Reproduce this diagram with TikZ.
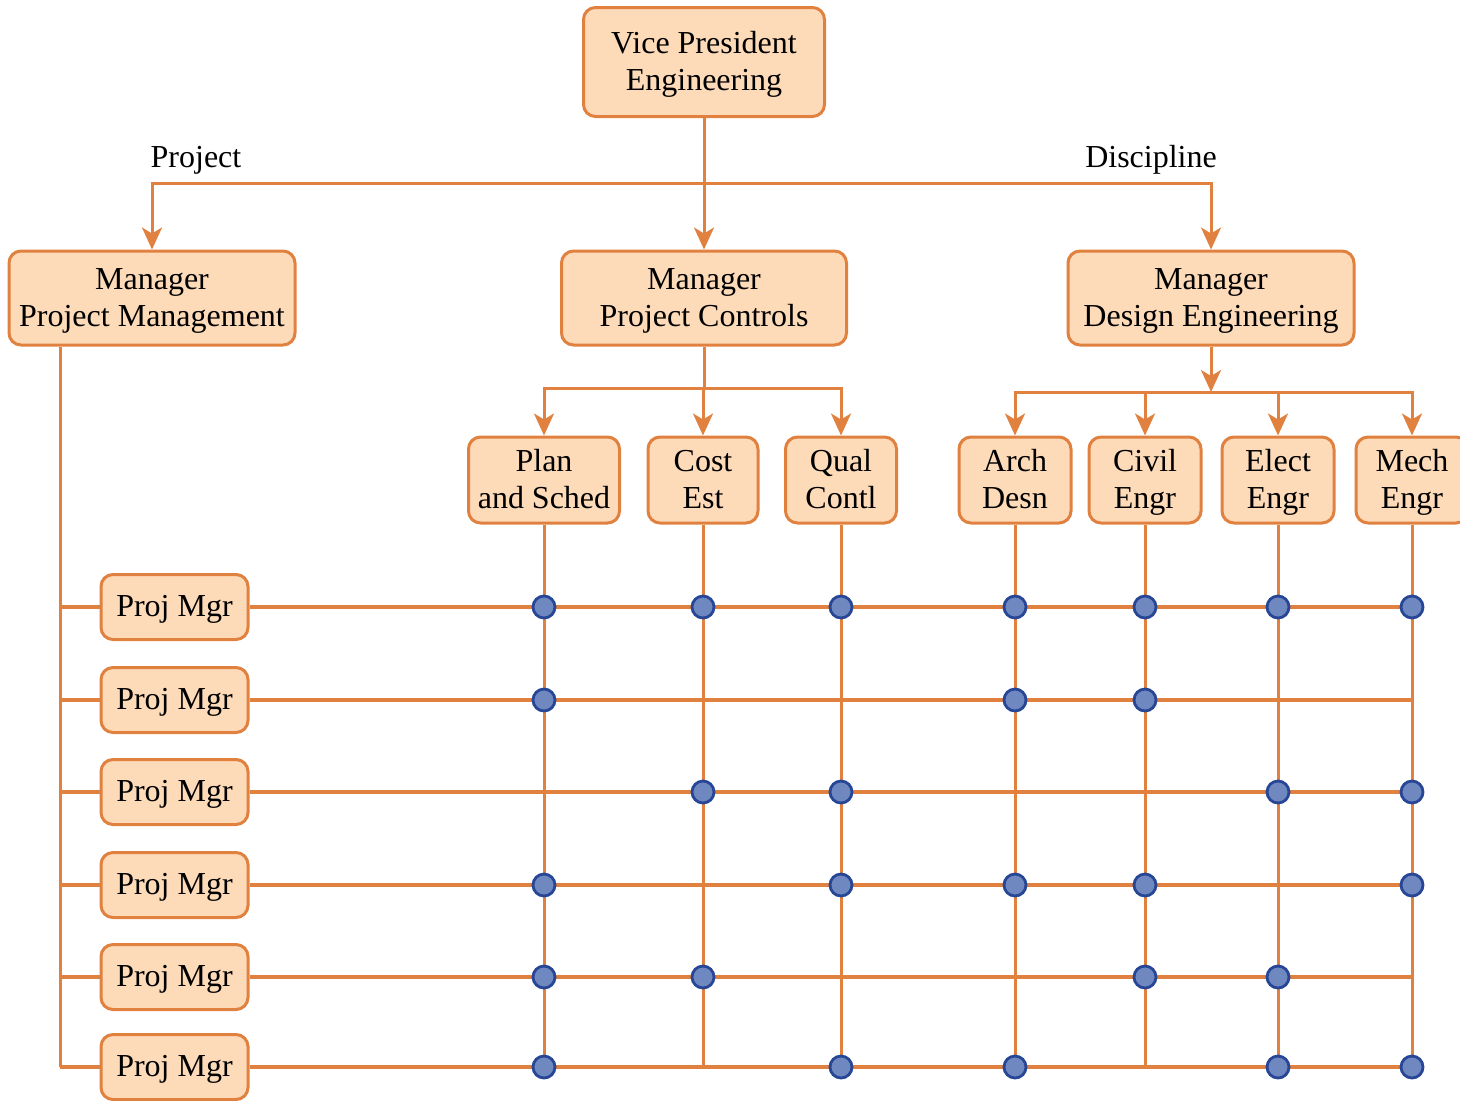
\documentclass[tikz,border=0pt]{standalone}
\usepackage{fontspec}
\setmainfont{Liberation Serif}
\usetikzlibrary{arrows.meta}
\definecolor{boxfill}{RGB}{253,218,184}
\definecolor{boxline}{RGB}{224,129,64}
\definecolor{dotfill}{RGB}{112,136,192}
\definecolor{dotline}{RGB}{40,70,150}
\newcommand\lstrut{\rule[-3pt]{0pt}{16pt}}
\tikzset{
  orgbox/.style={draw=boxline, fill=boxfill, line width=1.5pt, rounded corners=6pt,
    align=center, inner sep=0pt, font=\fontsize{16}{18.5}\selectfont},
  bigbox/.style={orgbox, minimum width=#1, minimum height=47pt},
  smallbox/.style={orgbox, minimum width=#1, minimum height=43pt},
  pmbox/.style={orgbox, minimum width=73.5pt, minimum height=32.5pt},
  conn/.style={draw=boxline, line width=1.5pt},
  hconn/.style={draw=boxline, line width=1.8pt},
  arr/.style={conn, -{Stealth[length=11pt, width=10pt, inset=3pt]}},
  lbl/.style={font=\fontsize{16}{18.5}\selectfont, inner sep=0pt},
  dot/.style={circle, draw=dotline, fill=dotfill, line width=1.4pt, minimum size=11pt, inner sep=0pt},
}
\begin{document}
\begin{tikzpicture}[x=0.5pt, y=-0.5pt]
\useasboundingbox (0,0) rectangle (1460,1100);
% top nodes
\node[orgbox, minimum width=120.5pt, minimum height=54.5pt] (vp) at (704,62) {\lstrut Vice President\\\lstrut Engineering};
\node[bigbox=143pt] (mpm) at (152,298) {\lstrut Manager\\\lstrut Project Management};
\node[bigbox=142.5pt] (mpc) at (704,298) {\lstrut Manager\\\lstrut Project Controls};
\node[bigbox=143pt] (mde) at (1211,298) {\lstrut Manager\\\lstrut Design Engineering};
\node[lbl] (lproj) at (196,160) {Project};
\node[lbl] (ldisc) at (1151,160) {Discipline};
% second level
\node[smallbox=75.5pt] (plan) at (544,480) {\lstrut Plan\\\lstrut and Sched};
\node[smallbox=55pt] (cost) at (703,480) {\lstrut Cost\\\lstrut Est};
\node[smallbox=55.5pt] (qual) at (841,480) {\lstrut Qual\\\lstrut Contl};
\node[smallbox=56pt] (arch) at (1015,480) {\lstrut Arch\\\lstrut Desn};
\node[smallbox=56pt] (civil) at (1145,480) {\lstrut Civil\\\lstrut Engr};
\node[smallbox=56pt] (elect) at (1278,480) {\lstrut Elect\\\lstrut Engr};
\node[smallbox=56pt] (mech) at (1412,480) {\lstrut Mech\\\lstrut Engr};
% project managers
\foreach \i/\y in {1/607,2/700,3/792,4/885,5/977,6/1067}{
  \node[pmbox] (p\i) at (174.5,\y) {\lstrut Proj Mgr};
}
% helper coordinates
\coordinate (T) at (0,183);
\coordinate (B1) at (0,388);
\coordinate (B2) at (0,392);
\coordinate (L) at (60,0);
% top tree
\draw[arr] (vp.south) -- (mpc.north);
\draw[arr] (vp.south |- T) -| (mpm.north);
\draw[arr] (vp.south |- T) -| (mde.north);
% project controls tree
\draw[conn] (mpc.south) -- (mpc.south |- B1);
\draw[arr] (mpc.south |- B1) -| (plan.north);
\draw[arr] (mpc.south |- B1) -| (cost.north);
\draw[arr] (mpc.south |- B1) -| (qual.north);
% design engineering tree
\draw[arr] (mde.south) -- (mde.south |- B2);
\draw[arr] (mde.south |- B2) -| (arch.north);
\draw[arr] (mde.south |- B2) -| (civil.north);
\draw[arr] (mde.south |- B2) -| (elect.north);
\draw[arr] (mde.south |- B2) -| (mech.north);
% left spine
\draw[conn] (mpm.south -| L) -- (L |- p6);
% columns
\foreach \c in {plan,cost,qual,arch,civil,elect,mech}{
  \draw[conn] (\c.south) -- (\c.south |- p6);
}
\foreach \i in {1,...,6}{
  \draw[hconn] (L |- p\i) -- (p\i.west);
  \draw[hconn] (p\i.east) -- (mech.south |- p\i);
}
% dots
\foreach \c in {plan,cost,qual,arch,civil,elect,mech}{\node[dot] at (\c.south |- p1) {};}
\foreach \c in {plan,arch,civil}{\node[dot] at (\c.south |- p2) {};}
\foreach \c in {cost,qual,elect,mech}{\node[dot] at (\c.south |- p3) {};}
\foreach \c in {plan,qual,arch,civil,mech}{\node[dot] at (\c.south |- p4) {};}
\foreach \c in {plan,cost,civil,elect}{\node[dot] at (\c.south |- p5) {};}
\foreach \c in {plan,qual,arch,elect,mech}{\node[dot] at (\c.south |- p6) {};}
\end{tikzpicture}
\end{document}
